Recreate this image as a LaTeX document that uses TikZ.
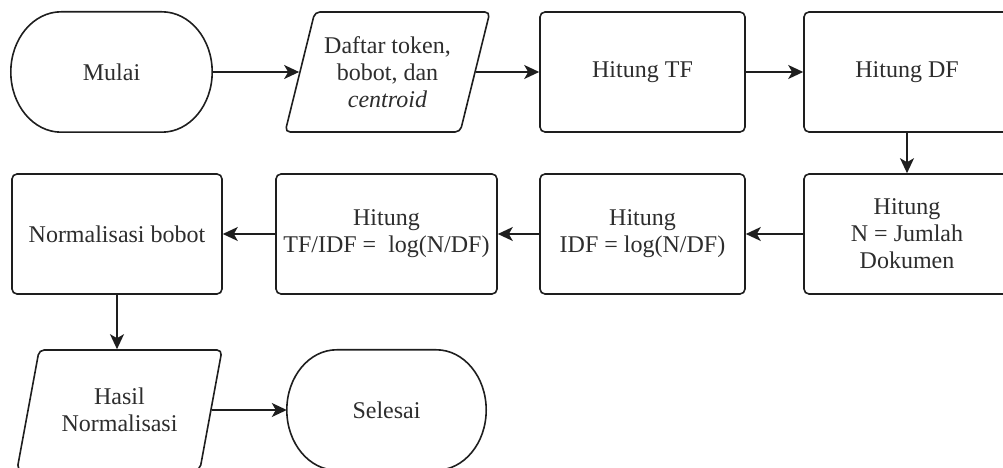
\documentclass[tikz,border=0pt]{standalone}
\usepackage{fontspec}
\setmainfont{Liberation Serif}
\usetikzlibrary{shapes.geometric,arrows.meta,calc}
\definecolor{ink}{RGB}{30,30,30}
\definecolor{txt}{RGB}{45,45,45}
\begin{document}
\begin{tikzpicture}[x=1pt,y=1pt,
  font=\fontsize{24}{27}\selectfont,
  box/.style={draw=ink, line width=1.6pt, rounded corners=5pt, fill=white,
    text=txt, align=center, inner sep=0pt, minimum height=120pt},
  io/.style={box, trapezium, trapezium left angle=70, trapezium right angle=110,
    trapezium stretches=true, minimum width=205pt},
  term/.style={text=txt, align=center, inner sep=0pt, minimum height=120pt},
  termline/.style={draw=ink, line width=1.6pt},
  arr/.style={draw=ink, line width=1.6pt, -{Stealth[length=15pt,width=14pt,inset=4pt]}}]
\useasboundingbox (0,0) rectangle (1003,468);
\clip (0,0) rectangle (1003,468);

% top row
\node[term, minimum width=201pt] (mulai) at (111.5,396) {Mulai};
\node[io] (daftar) at (387.5,396) {Daftar token,\\ bobot, dan\\ \textit{centroid}};
\node[box, minimum width=205pt] (tf) at (642.5,396) {Hitung TF};
\node[box, minimum width=206pt] (df) at (907,396) {Hitung DF};

% middle row
\node[box, minimum width=206pt] (jml) at (907,234) {Hitung\\ N = Jumlah\\ Dokumen};
\node[box, minimum width=205pt] (idf) at (642.5,234) {Hitung\\ IDF = log(N/DF)};
\node[box, minimum width=221pt] (tfidf) at (386.5,234) {Hitung\\ TF/IDF =\ \ log(N/DF)};
\node[box, minimum width=210pt] (norm) at (117,234) {Normalisasi bobot};

% bottom row
\node[io] (hasil) at (119.5,58) {Hasil\\ Normalisasi};
\node[term, minimum width=199pt] (selesai) at (386.5,58) {Selesai};

% terminator outlines with half-elliptic ends
\foreach \s in {mulai,selesai}{
  \draw[termline] let \p1=(\s.north west), \p2=(\s.south east),
      \n1={(\x2-\x1)/4}, \n2={(\y1-\y2)/2} in
    (\x1+\n1,\y1) -- (\x2-\n1,\y1)
    arc[start angle=90, end angle=-90, x radius=\n1, y radius=\n2]
    -- (\x1+\n1,\y2)
    arc[start angle=270, end angle=90, x radius=\n1, y radius=\n2]
    -- cycle;
}

% connectors
\draw[arr] (mulai) -- (daftar);
\draw[arr] (daftar) -- (tf);
\draw[arr] (tf) -- (df);
\draw[arr] (df) -- (jml);
\draw[arr] (jml) -- (idf);
\draw[arr] (idf) -- (tfidf);
\draw[arr] (tfidf) -- (norm);
\draw[arr] (norm.south) -- (norm.south |- hasil.north);
\draw[arr] (hasil) -- (selesai);
\end{tikzpicture}
\end{document}
